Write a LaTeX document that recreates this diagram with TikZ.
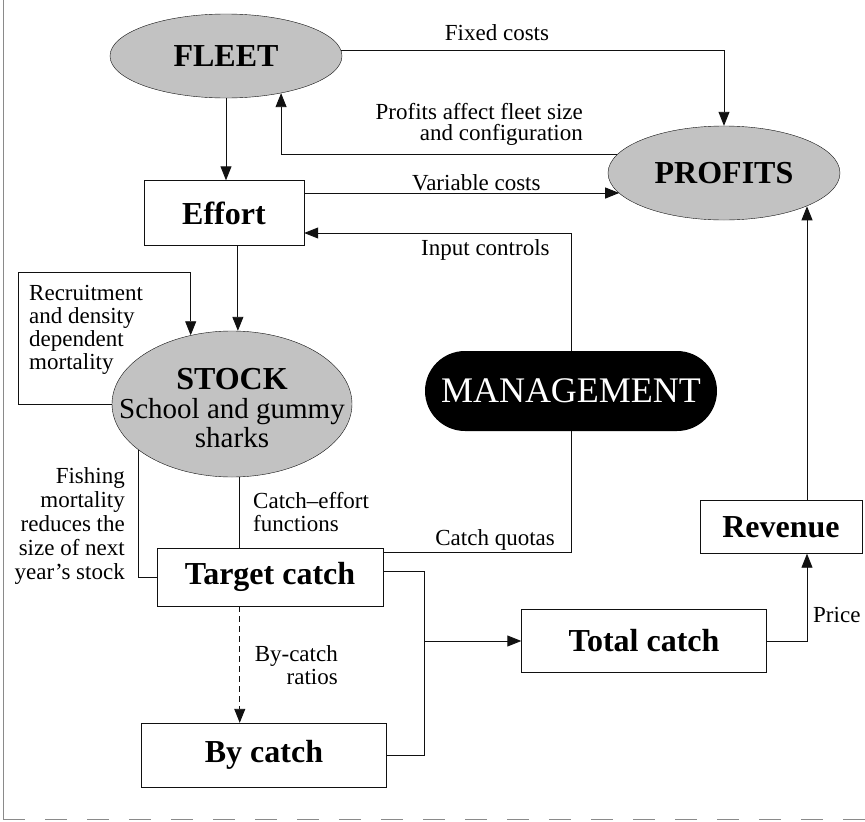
\documentclass[tikz,border=0pt]{standalone}
\usepackage{fontspec}
\setmainfont{Liberation Serif}
\usetikzlibrary{arrows.meta,calc,positioning,shapes.geometric}
\definecolor{Ink}{HTML}{111111}
\definecolor{Stipple}{HTML}{C2C2C2}
\definecolor{FrameGray}{HTML}{8A8A8A}
\newcommand{\notesize}{\fontsize{23}{23}\selectfont}
\newcommand{\boxsize}{\fontsize{32}{32}\selectfont\bfseries}
\tikzset{
  blob/.style={ellipse, draw=Ink, fill=Stipple, inner sep=0pt},
  stage/.style={draw=Ink, fill=white, inner sep=0pt, font=\boxsize},
  office/.style={rounded corners=40pt, fill=black, text=white, inner sep=0pt,
    font=\fontsize{36}{36}\selectfont},
  note/.style={inner sep=0pt, font=\notesize},
  link/.style={draw=Ink, line width=0.9pt},
  flow/.style={link, -{Triangle[length=14pt,width=11pt]}}
}

\begin{document}
\begin{tikzpicture}[x=1pt,y=-1pt]
  \useasboundingbox (0,0) rectangle (865,822);
  \draw[FrameGray, line width=0.9pt] (3,0) -- (3,819);
  \draw[FrameGray, line width=0.9pt, dash pattern=on 22pt off 20pt] (3,819) -- (865,819);

  % nodes
  \node[blob, minimum width=232pt, minimum height=84pt, font=\boxsize] (fleet) at (226,56) {FLEET};
  \node[blob, minimum width=232pt, minimum height=94pt, font=\boxsize] (profits) at (724,173) {PROFITS};
  \node[stage, minimum width=160pt, minimum height=65pt] (effort) at (224,213) {Effort};
  \node[blob, minimum width=240pt, minimum height=146pt] (stock) at (232,404) {};
  \node[align=center, inner sep=0pt, anchor=north, font=\fontsize{29}{29}\selectfont] (stocktext) at (232,368)
    {{\boxsize STOCK}\\School and gummy\\sharks};
  \node[office, minimum width=292pt, minimum height=80pt] (mgmt) at (571,391) {MANAGEMENT};
  \node[stage, minimum width=226pt, minimum height=58pt] (target) at (270,577) {Target catch};
  \node[stage, minimum width=245pt, minimum height=64pt] (bycatch) at (264,755) {By catch};
  \node[stage, minimum width=245pt, minimum height=63pt] (total) at (644,641) {Total catch};
  \node[stage, minimum width=162pt, minimum height=53pt] (revenue) at (781,527) {Revenue};

  % labels
  \node[note, anchor=base] (fixedlbl) at (497,40) {Fixed costs};
  \node[note, anchor=north east, align=right, font=\fontsize{23}{21}\selectfont] (profitlbl) at (583,103)
    {Profits affect fleet size\\and configuration};
  \node[note, anchor=base west] (varlbl) at (412,190) {Variable costs};
  \node[note, anchor=base west] (inputlbl) at (421,255) {Input controls};
  \node[note, anchor=north west, align=left] (recruitlbl) at (29,285)
    {Recruitment\\and density\\dependent\\mortality};
  \node[note, anchor=north east, align=right, font=\fontsize{23}{24}\selectfont] (fishlbl) at (125,467)
    {Fishing\\mortality\\reduces the\\size of next\\year's stock};
  \node[note, anchor=north west, align=left] (cefflbl) at (253,492) {Catch--effort\\functions};
  \node[note, anchor=base east] (quotalbl) at (555,545) {Catch quotas};
  \node[note, anchor=north east, align=right] (ratiolbl) at (338,645) {By-catch\\ratios};
  \node[note, anchor=base west] (pricelbl) at (813,622) {Price};

  % connectors
  \draw[flow] (fleet.3) -| (profits.north);
  \draw[flow] (profits.170) -| (fleet.-34);
  \draw[flow] (fleet.south) -- (fleet.south |- effort.north);
  \draw[flow] (effort.14) -- (effort.14 -| profits.191);
  \draw[flow] (mgmt.north) |- (effort.-14);
  \draw[flow] (effort.-67) -- (effort.-67 |- stock.north);
  \coordinate (recloop) at (18,272);
  \draw[flow] (stock.west) -| (recloop) -| (stock.121);
  \draw[link] (stock.206) |- (target.west);
  \draw[link] (stock.-84) -- (stock.-84 |- target.north);
  \draw[link] (mgmt.south) |- (target.12);
  \coordinate (join) at ($(total.west)+(-97,0)$);
  \draw[link] (target.3) -| (join) |- (bycatch.east);
  \draw[flow] (join) -- (total.west);
  \draw[flow, dash pattern=on 6pt off 4pt] (target.-136) -- (target.-136 |- bycatch.north);
  \draw[flow] (total.east) -| ($(revenue.south)+(26,0)$);
  \draw[flow] ($(revenue.north)+(26,0)$) coordinate (rv) -- (rv |- profits.-22);
\end{tikzpicture}
\end{document}
